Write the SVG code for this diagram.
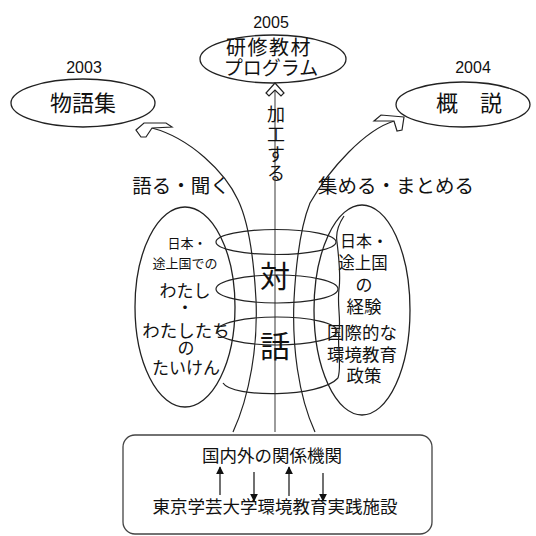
<svg xmlns="http://www.w3.org/2000/svg" width="536" height="536" viewBox="0 0 536 536">
<defs>
<style>
.o{fill:none;stroke:#222;stroke-width:1.3}
.c{fill:none;stroke:#222;stroke-width:1.2}
.ch{fill:#fff;stroke:#222;stroke-width:1.2;stroke-linejoin:miter}
.t{font-family:"Noto Sans CJK JP","Noto Sans CJK SC",sans-serif;fill:#111;text-anchor:middle}
.n{font-family:"Liberation Sans",Arial,sans-serif;fill:#111;text-anchor:middle;font-size:16px}
.a{stroke:#111;stroke-width:1.2;fill:none}
</style>
<marker id="ah" viewBox="0 0 10 10" refX="9" refY="5" markerWidth="8" markerHeight="8" markerUnits="userSpaceOnUse" orient="auto">
<path d="M0,0 L10,5 L0,10 z" fill="#111"/>
</marker>
</defs>
<rect width="536" height="536" fill="#fff"/>

<g id="connectors">
<path class="c" d="M233,432 C250,395 258,345 256,300 C254,262 250,225 238,200 C225,172 190,138 152,128"/>
<path class="c" d="M315,432 C298,395 292,345 294,300 C296,262 300,228 310,203 C330,168 365,130 394,121"/>
<line x1="275" y1="432" x2="275" y2="90" stroke="#666" stroke-width="1.3"/>
<polygon class="ch" points="136,130 144,123 166,123 172,127 152,128 146,137 141,137"/>
<polygon class="ch" points="404,117 381,115 374,121 394,121 397,131 402,130"/>
<polygon class="ch" points="275,83 284,93 281,96 275,90 269,96 266,93"/>
</g>

<g id="node-story">
<ellipse class="o" cx="83" cy="103" rx="72" ry="24"/>
<text class="n" x="84" y="73">2003</text>
<text class="t" x="83" y="111" font-size="22">物語集</text>
</g>

<g id="node-program">
<ellipse class="o" cx="273" cy="59" rx="73" ry="24"/>
<text class="n" x="271" y="28">2005</text>
<text class="t" font-size="19"><tspan x="269" y="55" font-size="20" letter-spacing="1.5">研修教材</tspan><tspan x="271" y="75">プログラム</tspan></text>
</g>

<g id="node-overview">
<ellipse class="o" cx="463" cy="104.5" rx="67" ry="22.5"/>
<text class="n" x="473" y="73">2004</text>
<text class="t" x="469" y="111" font-size="22">概　説</text>
</g>

<g id="label-process">
<text class="t" font-size="18"><tspan x="276" y="121">加</tspan><tspan x="276" y="141">工</tspan><tspan x="276" y="161">す</tspan><tspan x="276" y="180">る</tspan></text>
</g>
<g id="label-talk">
<text class="t" x="181" y="193" font-size="19.5">語る・聞く</text>
</g>
<g id="label-collect">
<text class="t" x="396" y="193" font-size="19.5">集める・まとめる</text>
</g>

<g id="node-left">
<ellipse class="o" cx="185" cy="307" rx="50" ry="100"/>
<text class="t" font-size="17"><tspan x="187" y="248" font-size="13">日本・</tspan><tspan x="185" y="268" font-size="13">途上国での</tspan><tspan x="185" y="297">わたし</tspan><tspan x="185" y="314">・</tspan><tspan x="186" y="337" font-size="17.5">わたしたち</tspan><tspan x="186" y="354">の</tspan><tspan x="186" y="374">たいけん</tspan></text>
</g>

<g id="node-right">
<ellipse class="o" cx="362" cy="310" rx="48" ry="105"/>
<text class="t" font-size="17.5"><tspan x="364" y="247" font-size="16">日本・</tspan><tspan x="363" y="269" font-size="16.5">途上国</tspan><tspan x="364" y="291" font-size="17">の</tspan><tspan x="364" y="313">経験</tspan><tspan x="362" y="339">国際的な</tspan><tspan x="362" y="361">環境教育</tspan><tspan x="364" y="382">政策</tspan></text>
</g>

<g id="node-dialogue">
<ellipse class="c" cx="276" cy="242" rx="60" ry="12.5"/>
<ellipse class="c" cx="277" cy="289" rx="61" ry="14"/>
<ellipse class="c" cx="277" cy="331" rx="60" ry="14"/>
<path class="c" d="M223,383 C232,398 320,398 338,378"/>
<path class="c" d="M344,216 C336,228 336,236 337,242 C339,260 341,275 339,289 C337,305 341,318 339,331 C337,350 342,365 338,378"/>
<text class="t" font-size="30"><tspan x="275" y="287">対</tspan><tspan x="275" y="357">話</tspan></text>
</g>

<g id="node-base">
<rect x="123" y="435" width="309" height="99" rx="12" ry="12" fill="none" stroke="#444" stroke-width="1.3"/>
<text class="t" font-size="17.5"><tspan x="272" y="462">国内外の関係機関</tspan><tspan x="275" y="513">東京学芸大学環境教育実践施設</tspan></text>
<line class="a" x1="220" y1="495" x2="220" y2="467" marker-end="url(#ah)"/>
<line class="a" x1="254" y1="472" x2="254" y2="501" marker-end="url(#ah)"/>
<line class="a" x1="289" y1="496" x2="289" y2="467" marker-end="url(#ah)"/>
<line class="a" x1="323" y1="473" x2="323" y2="501" marker-end="url(#ah)"/>
</g>
</svg>
